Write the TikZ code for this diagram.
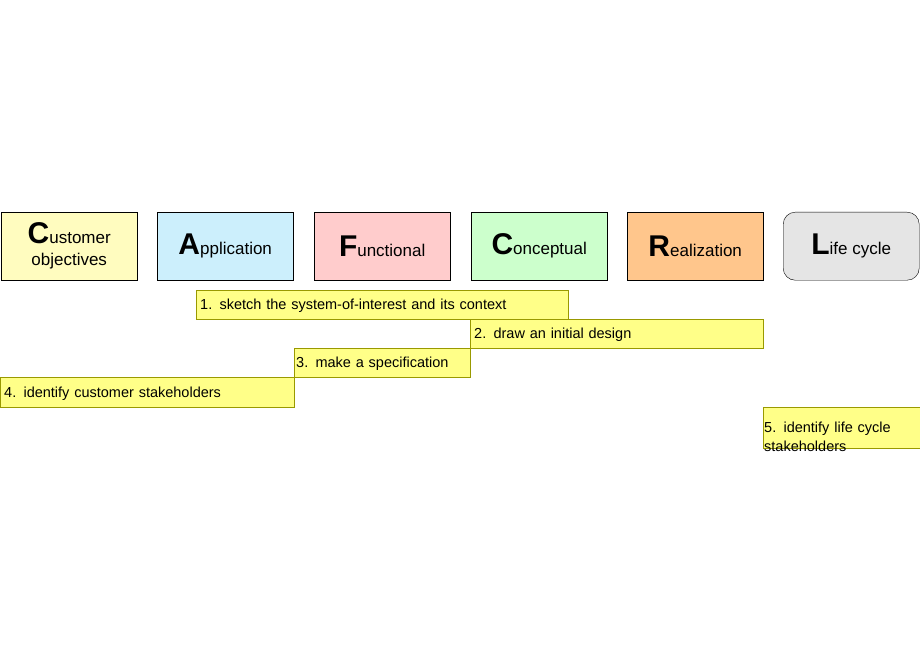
\documentclass[tikz,border=0pt]{standalone}
\usepackage{fontspec}
\setmainfont{Liberation Sans}
\usetikzlibrary{positioning}
\definecolor{notefill}{HTML}{FFFF88}
\definecolor{notedraw}{HTML}{999900}
\newcommand{\initial}[1]{{\fontsize{30pt}{30pt}\bfseries #1}}
\begin{document}
\begin{tikzpicture}[x=1pt,y=-1pt,
		view/.style={
				rectangle,
				draw=black,
				anchor=north west,
				minimum width=136pt,
				minimum height=68pt,
				inner sep=0pt,
				align=center,
				font=\fontsize{17pt}{22pt}\selectfont,
			},
		note/.style={
				rectangle,
				draw=notedraw,
				fill=notefill,
				anchor=north west,
				inner sep=0pt,
				text depth=0pt,
				align=left,
				font=\fontsize{14.5pt}{19pt}\selectfont,
			}
	]
	\useasboundingbox (0,0) rectangle (920,660);

	% views
	\node[view, fill=yellow!25] (cust) at (1,212) {\initial{C}ustomer\\objectives};
	\node[view, fill=cyan!20] (appl) at (157,212) {\initial{A}pplication};
	\node[view, fill=red!20] (func) at (314,212) {\initial{F}unctional};
	\node[view, fill=green!20] (conc) at (471,212) {\initial{C}onceptual};
	\node[view, fill=orange!45] (real) at (627,212) {\initial{R}ealization};
	\node[view, fill=gray!20, rounded corners=12pt] (life) at (783,212) {\initial{L}ife cycle};

	% steps
	\node[note, minimum width=372pt, minimum height=29pt, text width=364pt] (stepone) at (196,290) {1. sketch the system-of-interest and its context};
	\node[note, minimum width=293pt, minimum height=29pt, text width=285pt] (steptwo) at (470,319) {2. draw an initial design};
	\node[note, minimum width=176pt, minimum height=29pt, text width=172pt] (stepthree) at (294,348) {3. make a specification};
	\node[note, minimum width=294pt, minimum height=30pt, text width=286pt] (stepfour) at (0,377) {4. identify customer stakeholders};
	\node[note, minimum width=157pt, minimum height=41pt, text width=155pt] (stepfive) at (763,407) {5. identify life cycle\\stakeholders};
\end{tikzpicture}
\end{document}
